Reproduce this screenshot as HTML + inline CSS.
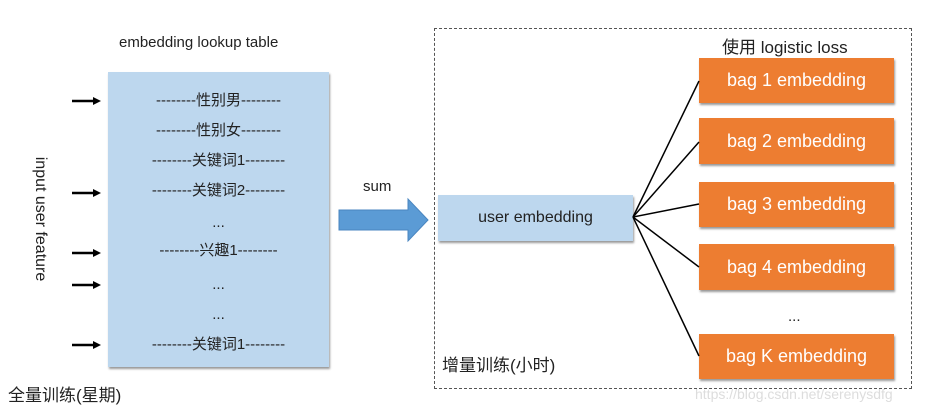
<!DOCTYPE html>
<html><head><meta charset="utf-8"><style>
body{margin:0;width:927px;height:414px;background:#fff;position:relative;overflow:hidden;font-family:"Liberation Sans","Noto Sans CJK SC",sans-serif;color:#222}
.a{position:absolute}
.row{position:absolute;left:108px;width:221px;text-align:center;font-size:15px;line-height:16px}
.bag{position:absolute;left:699px;width:195px;background:#ed7d31;color:#fff;font-size:18px;text-align:center;box-shadow:1px 2px 2px #999}
</style></head><body>
<div class="a" style="left:119px;top:34px;font-size:15px">embedding lookup table</div>
<div class="a" style="left:108px;top:72px;width:221px;height:295px;background:#bdd7ee;box-shadow:1px 2px 2px #999"></div>
<div class="row" style="top:93px">--------性别男--------</div>
<div class="row" style="top:123px">--------性别女--------</div>
<div class="row" style="top:153px">--------关键词1--------</div>
<div class="row" style="top:183px">--------关键词2--------</div>
<div class="row" style="top:215px">...</div>
<div class="row" style="top:243px">--------兴趣1--------</div>
<div class="row" style="top:277px">...</div>
<div class="row" style="top:307px">...</div>
<div class="row" style="top:337px">--------关键词1--------</div>
<div class="a" style="left:-40px;top:210px;width:160px;text-align:center;font-size:16px;transform:rotate(90deg)">input user feature</div>
<div class="a" style="left:8px;top:381px;font-size:17px">全量训练(星期)</div>
<div class="a" style="left:363px;top:178px;font-size:15px">sum</div>
<div class="a" style="left:434px;top:28px;width:476px;height:359px;border:1px dashed #555"></div>
<div class="a" style="left:438px;top:195px;width:195px;height:46px;background:#bdd7ee;box-shadow:1px 2px 2px #999;font-size:16px;line-height:46px;text-align:center">user embedding</div>
<div class="a" style="left:722px;top:33px;font-size:17px">使用 logistic loss</div>
<div class="bag" style="top:58px;height:45px;line-height:45px">bag 1 embedding</div>
<div class="bag" style="top:118px;height:46px;line-height:46px">bag 2 embedding</div>
<div class="bag" style="top:182px;height:45px;line-height:45px">bag 3 embedding</div>
<div class="bag" style="top:244px;height:46px;line-height:46px">bag 4 embedding</div>
<div class="a" style="left:788px;top:308px;font-size:15px">...</div>
<div class="bag" style="top:334px;height:45px;line-height:45px">bag K embedding</div>
<div class="a" style="left:442px;top:351px;font-size:17px">增量训练(小时)</div>
<div class="a" style="left:695px;top:386px;font-size:14px;color:#ddd">https://blog.csdn.net/serenysdfg</div>
<svg class="a" style="left:0;top:0" width="927" height="414">
<g stroke="#000" stroke-width="2.5">
<line x1="72" y1="101" x2="94" y2="101"/><line x1="72" y1="193" x2="94" y2="193"/><line x1="72" y1="253" x2="94" y2="253"/><line x1="72" y1="285" x2="94" y2="285"/><line x1="72" y1="345" x2="94" y2="345"/>
</g>
<g fill="#000">
<polygon points="101,101 93,97 93,105"/><polygon points="101,193 93,189 93,197"/><polygon points="101,253 93,249 93,257"/><polygon points="101,285 93,281 93,289"/><polygon points="101,345 93,341 93,349"/>
</g>
<polygon points="339,210 408,210 408,199 428,220 408,241 408,230 339,230" fill="#5b9bd5" stroke="#4a86c0"/>
<g stroke="#000" stroke-width="1.5">
<line x1="633" y1="217" x2="699" y2="81"/><line x1="633" y1="217" x2="699" y2="142"/><line x1="633" y1="217" x2="699" y2="204"/><line x1="633" y1="217" x2="699" y2="267"/><line x1="633" y1="217" x2="699" y2="356"/>
</g>
</svg>
</body></html>
